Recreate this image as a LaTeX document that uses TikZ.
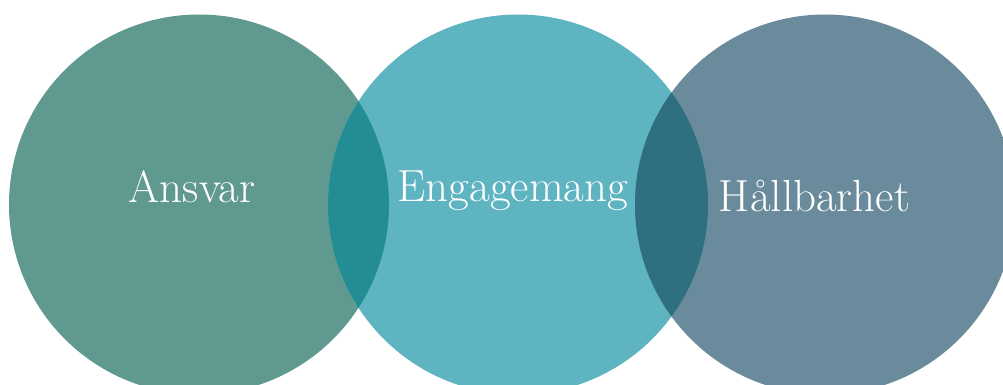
\documentclass[tikz,border=0pt]{standalone}
\usepackage{fontspec}
\begin{document}
\begin{tikzpicture}[x=1pt,y=-1pt,
  lbl/.style={text=white,font=\fontsize{45}{52}\selectfont,anchor=base,inner sep=0pt}]
\definecolor{cA}{HTML}{5F998F}
\definecolor{cB}{HTML}{5FB4C2}
\definecolor{cC}{HTML}{6A8B9B}
\definecolor{cAB}{HTML}{238C94}
\definecolor{cBC}{HTML}{2E6F80}
\useasboundingbox (0,0) rectangle (1003,385);
\begin{scope}
\clip (0,0) rectangle (1003,385);
\fill[cA] (199,204.5) circle (190);
\fill[cB] (518,204.5) circle (190);
\fill[cC] (825,204.5) circle (190);
\begin{scope}
\clip (199,204.5) circle (190);
\fill[cAB] (518,204.5) circle (190);
\end{scope}
\begin{scope}
\clip (518,204.5) circle (190);
\fill[cBC] (825,204.5) circle (190);
\end{scope}
\end{scope}
\node[lbl] (a) at (192,202) {Ansvar};
\node[lbl] (b) at (513,201) {Engagemang};
\node[lbl] (c) at (814.5,211) {Hållbarhet};
\end{tikzpicture}
\end{document}
